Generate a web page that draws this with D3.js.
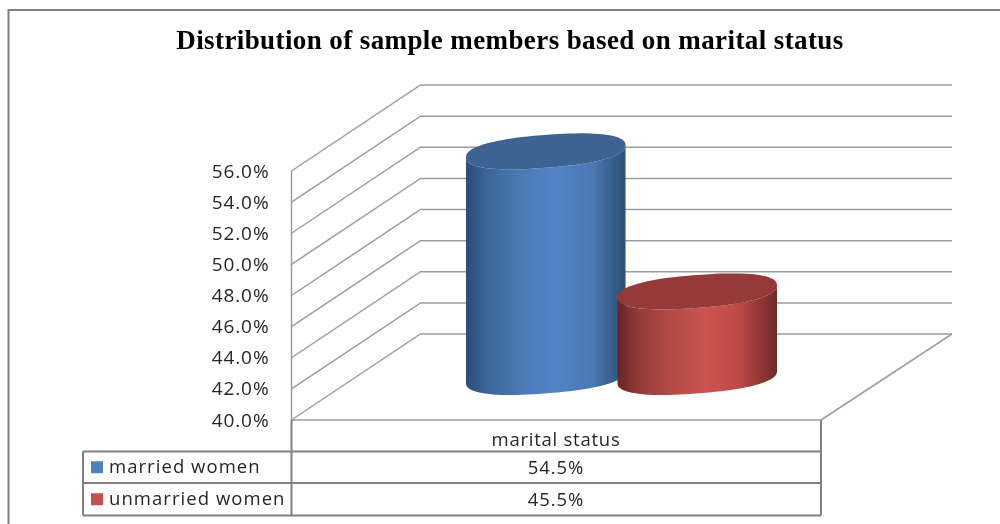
<!DOCTYPE html>
<html><head><meta charset="utf-8">
<script src="https://cdnjs.cloudflare.com/ajax/libs/d3/7.8.5/d3.min.js"></script>
<style>html,body{margin:0;padding:0;background:#fff}svg{display:block}text{fill:#262626}</style>
</head><body><svg id="c" width="1000" height="524"></svg>
<script>
const titleText = "Distribution of sample members based on marital status";
const category = "marital status";
const seriesNames = ["married women", "unmarried women"];
const seriesValues = [54.5, 45.5];
const seriesLabels = ["54.5%", "45.5%"];
const seriesBase = ["#4f81bd", "#c0504d"];
const seriesTop = ["#3c6391", "#943a38"];
const sideStops = [
  [[0,"#2c4d75"],[0.12,"#3a6596"],[0.35,"#4a7ab5"],[0.55,"#5285c8"],[0.8,"#4a78b0"],[1,"#2d4e75"]],
  [[0,"#632523"],[0.12,"#8f3a37"],[0.3,"#b04845"],[0.55,"#cb5450"],[0.75,"#bf4a47"],[1,"#6e2a28"]]
];
const yTicks = [40,42,44,46,48,50,52,54,56];

const svg = d3.select("#c");
const soft = svg.append("defs").append("filter").attr("id","soft")
  .attr("x",0).attr("y",0).attr("width",1000).attr("height",524).attr("filterUnits","userSpaceOnUse")
  .attr("color-interpolation-filters","sRGB");
soft.append("feGaussianBlur").attr("stdDeviation",0.5);
const root = svg.append("g").attr("filter","url(#soft)");
root.append("rect").attr("width",1000).attr("height",524).attr("fill","#fff");

const y = d3.scaleLinear().domain([40,56]).range([420,171]);
const x = d3.scaleBand().domain(seriesNames).range([470,773]);
const dx = 130, dy = -86;
const left = 291.5, right = 821;
const line = d3.line();

root.append("path").attr("d", line([[8.5,524],[8.5,10],[1000,10]]))
  .attr("fill","none").attr("stroke","#808080").attr("stroke-width",2);

root.append("text").attr("x",510).attr("y",48.5).attr("text-anchor","middle")
  .attr("font-family","Liberation Serif").attr("font-weight","bold").attr("font-size",27)
  .attr("letter-spacing",0.4)
  .style("fill","#000").text(titleText);

const grid = root.append("g").attr("fill","none").attr("stroke","#9c9c9c").attr("stroke-width",1.5);
yTicks.forEach(t=>{
  grid.append("path").attr("d", line([[left,y(t)],[left+dx-1,y(t)+dy],[952,y(t)+dy]]));
});
grid.append("path").attr("d", line([[right,420],[952,334]]));
grid.append("path").attr("d", line([[left,420],[right,420]]));
grid.append("path").attr("d", line([[left,y(56)],[left,420]]));

const axis = d3.axisLeft(y).tickValues(yTicks).tickSize(0).tickPadding(0).tickFormat(d=>d3.format(".1f")(d)+"%");
const ag = root.append("g").attr("transform","translate(269.5,0)").call(axis);
ag.select(".domain").remove();
ag.selectAll("text").attr("font-family","Open Sans").attr("font-size",19).attr("letter-spacing",0.9).style("fill","#262626");

const defs = svg.select("defs");
const rx = x.bandwidth()/2 + 4, ry = 17.5, skew = 6;
const thetas = d3.range(0,361,4).map(d=>d*Math.PI/180);
const fuller = v => Math.sign(v)*Math.pow(Math.abs(v),0.85);
const ell = (cx,cy,th)=>{
  const c = fuller(Math.cos(th)), s = fuller(Math.sin(th));
  return [cx+rx*c, cy-skew*c+Math.sqrt(ry*ry-skew*skew)*s];
};
const cylinders = root.append("g");
seriesNames.forEach((s,i)=>{
  const cx = x(s)+x.bandwidth()/2;
  const baseY = y(40)+dy/2;
  const topY = y(seriesValues[i])+dy/2;
  const g = defs.append("linearGradient").attr("id","g"+i);
  sideStops[i].forEach(p=>g.append("stop").attr("offset",p[0]).attr("stop-color",p[1]));
  const half = thetas.filter(t=>t<=Math.PI+1e-6);
  const side = half.map(t=>ell(cx,baseY,t)).concat(half.map(t=>ell(cx,topY,t)).reverse());
  cylinders.append("path").attr("d", line(side)+"Z").attr("fill",`url(#g${i})`);
  cylinders.append("path").attr("d", line(thetas.map(t=>ell(cx,topY,t)))+"Z").attr("fill",seriesTop[i]);
});

const rows = [420,451.5,483,515.5];
const tbl = root.append("g").attr("fill","none").attr("stroke","#808080").attr("stroke-width",2);
tbl.append("path").attr("d", line([[83,rows[1]],[right,rows[1]]]));
tbl.append("path").attr("d", line([[83,rows[2]],[right,rows[2]]]));
tbl.append("path").attr("d", line([[83,rows[3]],[right,rows[3]]]));
tbl.append("path").attr("d", line([[83,rows[1]],[83,rows[3]]]));
tbl.append("path").attr("d", line([[left,420],[left,rows[3]]]));
tbl.append("path").attr("d", line([[right,420],[right,rows[3]]]));

const tf = {family:"Open Sans", size:18.5};
root.append("text").attr("x",556).attr("y",445.5).attr("text-anchor","middle")
  .attr("font-family",tf.family).attr("font-size",tf.size).attr("letter-spacing",0.75).text(category);
seriesNames.forEach((s,i)=>{
  const cy = (rows[i+1]+rows[i+2])/2;
  root.append("rect").attr("x",91).attr("y",cy-6).attr("width",12).attr("height",12).attr("fill",seriesBase[i]);
  root.append("text").attr("x",109).attr("y",cy+6).attr("font-family",tf.family).attr("font-size",tf.size).attr("letter-spacing",1.05).text(s);
  root.append("text").attr("x",556).attr("y",cy+6.5).attr("text-anchor","middle").attr("font-family",tf.family).attr("font-size",tf.size).attr("letter-spacing",0.9).text(seriesLabels[i]);
});
</script></body></html>
